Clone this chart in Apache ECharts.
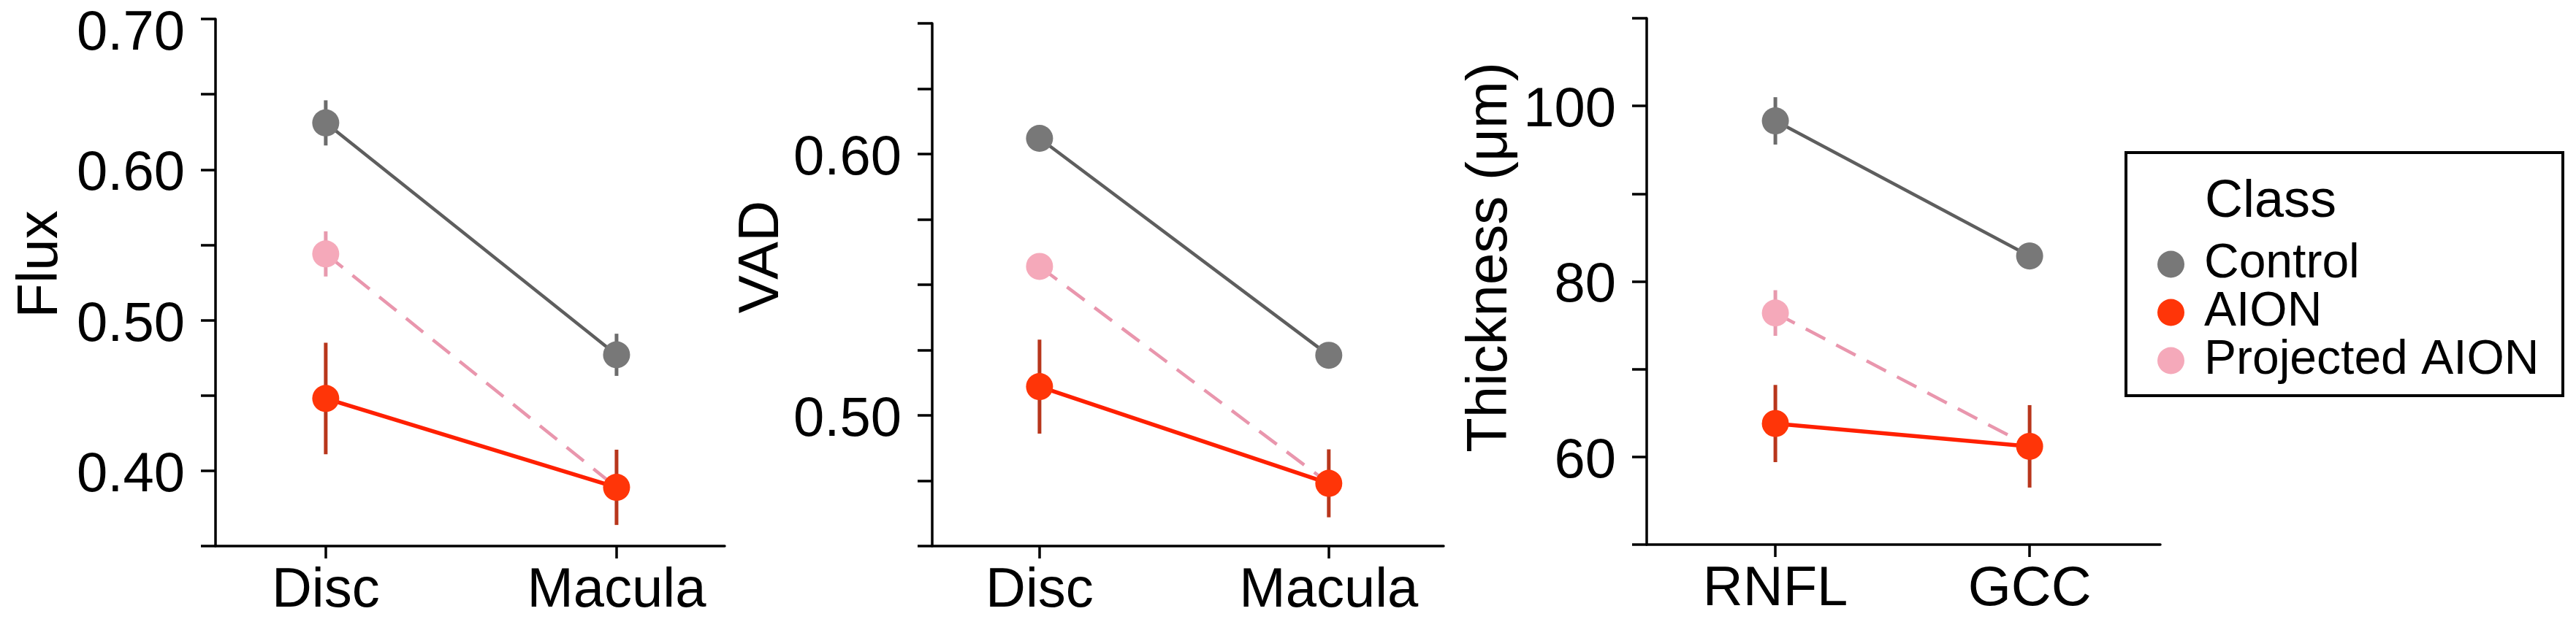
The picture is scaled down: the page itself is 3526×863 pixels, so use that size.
<!DOCTYPE html>
<html>
<head>
<meta charset="utf-8">
<title>Flux, VAD and Thickness by Class</title>
<script src="https://cdn.jsdelivr.net/npm/echarts@6/dist/echarts.min.js"></script>
<style>
  html, body { margin: 0; padding: 0; background: #ffffff; }
  #main { width: 3526px; height: 863px; }
</style>
</head>
<body>
<div id="main"></div>
<script>
  // categories of each panel
  var fluxCats = ['Disc', 'Macula'];
  var vadCats = ['Disc', 'Macula'];
  var thickCats = ['RNFL', 'GCC'];

  // Flux (mean and half error bar)
  var fluxControl = [0.631, 0.477];
  var fluxControlErr = [0.015, 0.014];
  var fluxAION = [0.448, 0.389];
  var fluxAIONErr = [0.037, 0.025];
  var fluxProjected = [0.544, 0.389];
  var fluxProjectedErr = [0.015, 0];

  // VAD
  var vadControl = [0.606, 0.523];
  var vadControlErr = [0.003, 0.003];
  var vadAION = [0.511, 0.474];
  var vadAIONErr = [0.018, 0.013];
  var vadProjected = [0.557, 0.474];
  var vadProjectedErr = [0.003, 0];

  // Thickness (um)
  var thickControl = [98.3, 82.9];
  var thickControlErr = [2.7, 1.5];
  var thickAION = [63.8, 61.2];
  var thickAIONErr = [4.4, 4.7];
  var thickProjected = [76.4, 61.2];
  var thickProjectedErr = [2.6, 0];

  // labelled y ticks
  var fluxTicks = [0.40, 0.50, 0.60, 0.70];
  var vadTicks = [0.50, 0.60];
  var thickTicks = [60, 80, 100];

  var classNames = ['Control', 'AION', 'Projected AION'];

  var FONT = '"Liberation Sans", Arial, Helvetica, sans-serif';

  var styles = {
    'Control': { marker: '#787878', line: '#5e5e5e', err: '#6c6c6c', width: 4.5, type: 'solid' },
    'AION': { marker: '#ff3508', line: '#ff2000', err: '#b8361c', width: 5.5, type: 'solid' },
    'Projected AION': { marker: '#f5a9ba', line: '#e996ad', err: '#e79aae', width: 4.5, type: [30, 17] }
  };

  function hasTick(list, v) {
    for (var i = 0; i < list.length; i++) {
      if (Math.abs(list[i] - v) < 1e-6) return true;
    }
    return false;
  }

  var labelText = { fontSize: 76, color: '#000', fontFamily: FONT };

  function yAxisFor(gi, name, min, max, interval, ticks, decimals, nameGap, namePad) {
    return {
      gridIndex: gi, type: 'value', min: min, max: max, interval: interval,
      name: name, nameLocation: 'middle', nameGap: nameGap,
      nameTextStyle: { fontSize: 78, color: '#000', fontFamily: FONT, padding: [0, 0, 0, namePad] },
      axisLine: { show: true, onZero: false, lineStyle: { color: '#000', width: 3.5 } },
      axisTick: { show: true, length: 20, lineStyle: { color: '#000', width: 3.5 } },
      axisLabel: {
        fontSize: 76, color: '#000', fontFamily: FONT, margin: 42,
        formatter: function (v) {
          if (!hasTick(ticks, v)) return '';
          // top label sits a little lower, as in the original
          var key = Math.abs(v - max) < 1e-6 ? 't' : 'n';
          return '{' + key + '|' + v.toFixed(decimals) + '}';
        },
        rich: {
          t: Object.assign({ padding: [42, 0, 0, 0] }, labelText),
          n: Object.assign({ padding: [14, 0, 0, 0] }, labelText)
        }
      },
      splitLine: { show: false }
    };
  }

  function xAxisFor(gi, cats, min, max) {
    return {
      gridIndex: gi, type: 'value', min: min, max: max,
      axisLine: { show: true, onZero: false, lineStyle: { color: '#000', width: 3.5 } },
      axisTick: { show: true, customValues: [0, 1], length: 17, lineStyle: { color: '#000', width: 3.5 } },
      axisLabel: {
        customValues: [0, 1], fontSize: 76, color: '#000', fontFamily: FONT, margin: 24,
        formatter: function (v) { return cats[Math.round(v)]; }
      },
      splitLine: { show: false }
    };
  }

  // error bars + mean line for one class in one panel
  function classSeries(gi, name, vals, errs) {
    var st = styles[name];
    var errData = [];
    vals.forEach(function (v, i) {
      if (errs[i] > 0) errData.push([i, v - errs[i], v + errs[i]]);
    });
    var lineData = vals.map(function (v, i) {
      var d = { value: [i, v] };
      // projected value at the second site sits under the AION point
      if (name === 'Projected AION' && i === 1) d.symbol = 'none';
      return d;
    });
    return [{
      type: 'custom', name: name + ' err', xAxisIndex: gi, yAxisIndex: gi,
      silent: true, z: 2,
      encode: { x: 0, y: [1, 2] },
      data: errData,
      renderItem: function (params, api) {
        var lo = api.coord([api.value(0), api.value(1)]);
        var hi = api.coord([api.value(0), api.value(2)]);
        return {
          type: 'line',
          shape: { x1: lo[0], y1: lo[1], x2: hi[0], y2: hi[1] },
          style: { stroke: st.err, lineWidth: 5 }
        };
      }
    }, {
      type: 'line', name: name, xAxisIndex: gi, yAxisIndex: gi, z: 3,
      data: lineData,
      symbol: 'circle', symbolSize: 37, showSymbol: true,
      itemStyle: { color: st.marker },
      lineStyle: { color: st.line, width: st.width, type: st.type },
      animation: false
    }];
  }

  function panelSeries(gi, control, controlErr, aion, aionErr, proj, projErr) {
    return []
      .concat(classSeries(gi, 'Projected AION', proj, projErr))
      .concat(classSeries(gi, 'Control', control, controlErr))
      .concat(classSeries(gi, 'AION', aion, aionErr));
  }

  var chart = echarts.init(document.getElementById('main'), null, { renderer: 'canvas' });

  chart.setOption({
    animation: false,
    backgroundColor: '#ffffff',
    textStyle: { fontFamily: FONT },
    title: {
      text: 'Class', left: 3013, top: 236, padding: 5,
      textStyle: { fontSize: 72, fontWeight: 'normal', color: '#000', fontFamily: FONT }
    },
    legend: {
      data: classNames.map(function (n) {
        return { name: n, itemStyle: { color: styles[n].marker, borderWidth: 0 } };
      }),
      orient: 'vertical', left: 2948, top: 324,
      icon: 'circle', itemWidth: 37, itemHeight: 37, itemGap: 0,
      selectedMode: false,
      textStyle: { fontSize: 66, lineHeight: 61, color: '#000', fontFamily: FONT, padding: [0, 0, 0, 22] }
    },
    graphic: [{
      type: 'rect',
      shape: { x: 2910, y: 209, width: 598, height: 333 },
      style: { fill: 'none', stroke: '#000', lineWidth: 4 }
    }],
    grid: [
      { left: 295, top: 26, width: 697, height: 722, outerBoundsMode: 'none' },
      { left: 1276, top: 32, width: 700, height: 716, outerBoundsMode: 'none' },
      { left: 2254, top: 25, width: 703, height: 721, outerBoundsMode: 'none' }
    ],
    xAxis: [
      xAxisFor(0, fluxCats, -0.379, 1.372),
      xAxisFor(1, vadCats, -0.371, 1.397),
      xAxisFor(2, thickCats, -0.506, 1.514)
    ],
    yAxis: [
      yAxisFor(0, 'Flux', 0.35, 0.70, 0.05, fluxTicks, 2, 200, 50),
      yAxisFor(1, 'VAD', 0.45, 0.65, 0.025, vadTicks, 2, 183, 76),
      yAxisFor(2, 'Thickness (\u03bcm)', 50, 110, 10, thickTicks, 0, 175, 66)
    ],
    series: []
      .concat(panelSeries(0, fluxControl, fluxControlErr, fluxAION, fluxAIONErr, fluxProjected, fluxProjectedErr))
      .concat(panelSeries(1, vadControl, vadControlErr, vadAION, vadAIONErr, vadProjected, vadProjectedErr))
      .concat(panelSeries(2, thickControl, thickControlErr, thickAION, thickAIONErr, thickProjected, thickProjectedErr))
  });
</script>
</body>
</html>
